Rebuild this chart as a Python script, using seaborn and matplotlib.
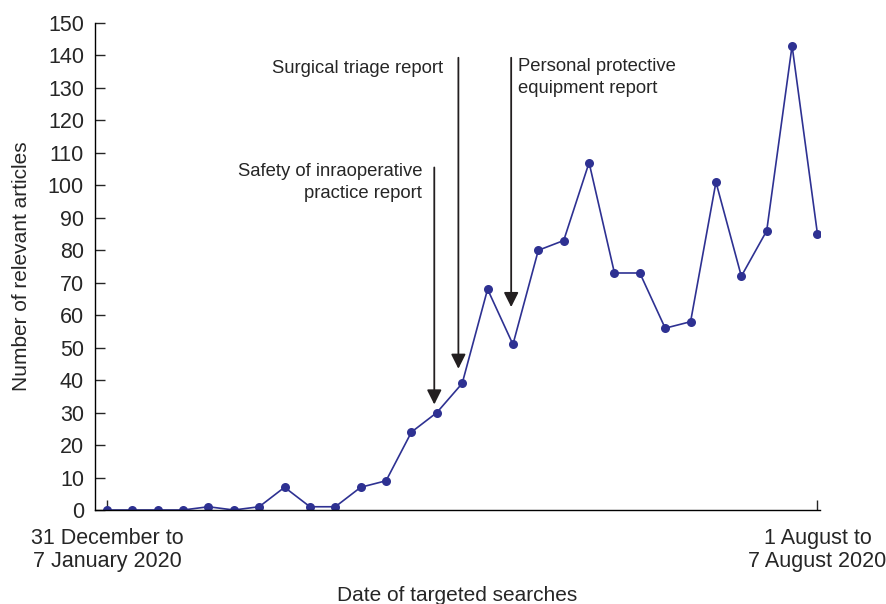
import numpy as np
import pandas as pd
import seaborn as sns
import matplotlib.pyplot as plt

# --- Dati ---
week_index = list(range(29))
articles = [0, 0, 0, 0, 1, 0, 1, 7, 1, 1, 7, 9, 24, 30, 39, 68, 51,
            80, 83, 107, 73, 73, 56, 58, 101, 72, 86, 143, 85]
tick_positions = [0, 28]
tick_labels = ['31 December to\n7 January 2020', '1 August to\n7 August 2020']

# annotazioni: testo, x della freccia, y punta, y inizio
report_labels = ['Safety of inraoperative\npractice report',
                 'Surgical triage report',
                 'Personal protective\nequipment report']
report_x = [12.9, 13.85, 15.93]
report_tip = [32.5, 43.5, 62.5]
report_top = [105.5, 139.3, 139.3]

df = pd.DataFrame({'week': week_index, 'articles': articles})

sns.set_style('ticks')
plt.rcParams['font.family'] = ['Liberation Sans', 'DejaVu Sans']

fig = plt.figure(figsize=(8.87, 6.04), dpi=100)
ax = fig.add_axes([95 / 887, 94 / 604, 725 / 887, 487 / 604])

line_color = '#2e3192'
sns.lineplot(data=df, x='week', y='articles', ax=ax, color=line_color,
             lw=1.2, marker='o', markersize=6.5, markeredgewidth=0)

ax.set_xlim(-0.47, 28.1)
ax.set_ylim(0, 150)
ax.set_yticks(range(0, 151, 10))
ax.set_xticks(tick_positions)
ax.set_xticklabels(tick_labels, fontsize=15.5, linespacing=1.15)
ax.tick_params(axis='y', labelsize=15.5, direction='in', length=7, width=1, pad=8)
ax.tick_params(axis='x', direction='in', length=7, width=1, pad=13)
ax.set_ylabel('Number of relevant articles', fontsize=15, labelpad=12)
ax.set_xlabel('Date of targeted searches', fontsize=15, labelpad=10)
sns.despine(ax=ax)
for s in ['left', 'bottom']:
    ax.spines[s].set_linewidth(1)
    ax.spines[s].set_color('black')

# frecce dei report
for x, tip, top in zip(report_x, report_tip, report_top):
    ax.annotate('', xy=(x, tip), xytext=(x, top),
                arrowprops=dict(arrowstyle='-|>', color='#231f20', lw=1.3,
                                mutation_scale=22, shrinkA=0, shrinkB=0))

ax.text(12.42, 107, report_labels[0], ha='right', va='top',
        fontsize=13.3, linespacing=1.4)
ax.text(13.25, 138.7, report_labels[1], ha='right', va='top', fontsize=13.3)
ax.text(16.2, 139.2, report_labels[2], ha='left', va='top',
        fontsize=13.3, linespacing=1.4)

plt.savefig('out.png', dpi=100)
plt.close()
